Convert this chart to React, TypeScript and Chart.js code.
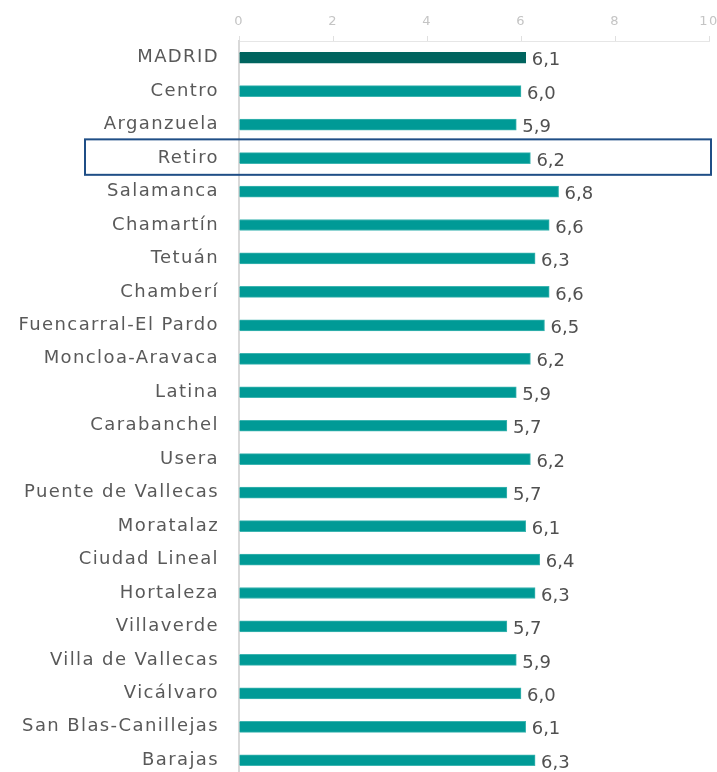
import React, { useEffect, useRef } from "react";
import { Chart, registerables } from "chart.js";

Chart.register(...registerables);

const categories: string[] = [
  "MADRID", "Centro", "Arganzuela", "Retiro", "Salamanca", "Chamartín", "Tetuán", "Chamberí",
  "Fuencarral-El Pardo", "Moncloa-Aravaca", "Latina", "Carabanchel", "Usera", "Puente de Vallecas",
  "Moratalaz", "Ciudad Lineal", "Hortaleza", "Villaverde", "Villa de Vallecas", "Vicálvaro",
  "San Blas-Canillejas", "Barajas",
];
const values: number[] = [
  6.1, 6.0, 5.9, 6.2, 6.8, 6.6, 6.3, 6.6, 6.5, 6.2, 5.9, 5.7, 6.2, 5.7, 6.1, 6.4, 6.3, 5.7, 5.9, 6.0, 6.1, 6.3,
];
const xTicks: number[] = [0, 2, 4, 6, 8, 10];
const highlighted = "Retiro";

const FONT = "'DejaVu Sans', sans-serif";

export default function App() {
  const ref = useRef<HTMLCanvasElement | null>(null);

  useEffect(() => {
    document.documentElement.style.overflow = "hidden";
    document.body.style.overflow = "hidden";
    document.body.style.margin = "0";
    const canvas = ref.current;
    if (!canvas) return;

    const spacingPlugin = {
      id: "labelSpacing",
      beforeDraw(chart: any) {
        (chart.ctx as any).letterSpacing = "1.4px";
      },
      beforeDatasetsDraw(chart: any) {
        (chart.ctx as any).letterSpacing = "0px";
      },
    };

    const labelPlugin = {
      id: "valueLabels",
      afterDatasetsDraw(chart: any) {
        const ctx = chart.ctx;
        const meta = chart.getDatasetMeta(0);
        ctx.save();
        (ctx as any).letterSpacing = "0px";
        ctx.font = `18px ${FONT}`;
        ctx.fillStyle = "#505050";
        ctx.textAlign = "left";
        ctx.textBaseline = "middle";
        meta.data.forEach((bar: any, i: number) => {
          const txt = values[i].toFixed(1).replace(".", ",");
          ctx.fillText(txt, bar.x + 6, bar.y + 3);
        });
        ctx.restore();
      },
    };

    const boxPlugin = {
      id: "highlightBox",
      afterDraw(chart: any) {
        const idx = categories.indexOf(highlighted);
        if (idx < 0) return;
        const y = chart.scales.y;
        const area = chart.chartArea;
        const cy = y.getPixelForValue(idx);
        const band = (area.bottom - area.top) / categories.length;
        const ctx = chart.ctx;
        ctx.save();
        ctx.strokeStyle = "#1F4E86";
        ctx.lineWidth = 2;
        ctx.strokeRect(area.left - 154, cy - band / 2 - 2, area.right - area.left + 156, band + 2);
        ctx.restore();
      },
    };

    const chart = new Chart(canvas, {
      type: "bar",
      data: {
        labels: categories,
        datasets: [
          {
            data: values,
            backgroundColor: categories.map((c, i) => (i === 0 ? "#00645F" : "#009A96")),
            borderColor: categories.map((c, i) => (i === 0 ? "#00645F" : "#3DB5B1")),
            borderWidth: 1,
            barThickness: 11,
          },
        ],
      },
      options: {
        indexAxis: "y",
        animation: false,
        responsive: false,
        maintainAspectRatio: false,
        layout: { padding: { left: 0, right: 0, top: 0, bottom: 0 } },
        plugins: { legend: { display: false }, tooltip: { enabled: false } },
        scales: {
          x: {
            position: "top",
            min: 0,
            max: 10,
            afterBuildTicks: (scale: any) => {
              scale.ticks = xTicks.map((v) => ({ value: v }));
            },
            afterFit: (scale: any) => {
              scale.height = 41;
              scale.paddingLeft = 0;
              scale.paddingRight = 8;
            },
            ticks: {
              color: "#C4C4C4",
              font: { family: FONT, size: 13 },
              padding: 7,
            },
            grid: {
              drawOnChartArea: false,
              color: "#E0E0E0",
              tickLength: 5,
            },
            border: { display: true, color: "#E6E6E6" },
          },
          y: {
            afterFit: (scale: any) => {
              scale.width = 239;
              scale.paddingTop = 0;
              scale.paddingBottom = 0;
            },
            ticks: {
              color: "#595959",
              font: { family: FONT, size: 18 },
              padding: 12,
              autoSkip: false,
            },
            grid: { display: false },
            border: { display: true, color: "#D9D9D9", width: 2 },
          },
        },
      },
      plugins: [spacingPlugin, labelPlugin, boxPlugin],
    });

    return () => chart.destroy();
  }, []);

  return (
    <div style={{ position: "absolute", left: 0, top: 0, width: 717, height: 772, overflow: "hidden", background: "#fff" }}>
      <canvas ref={ref} width={717} height={777} style={{ display: "block" }} />
    </div>
  );
}
